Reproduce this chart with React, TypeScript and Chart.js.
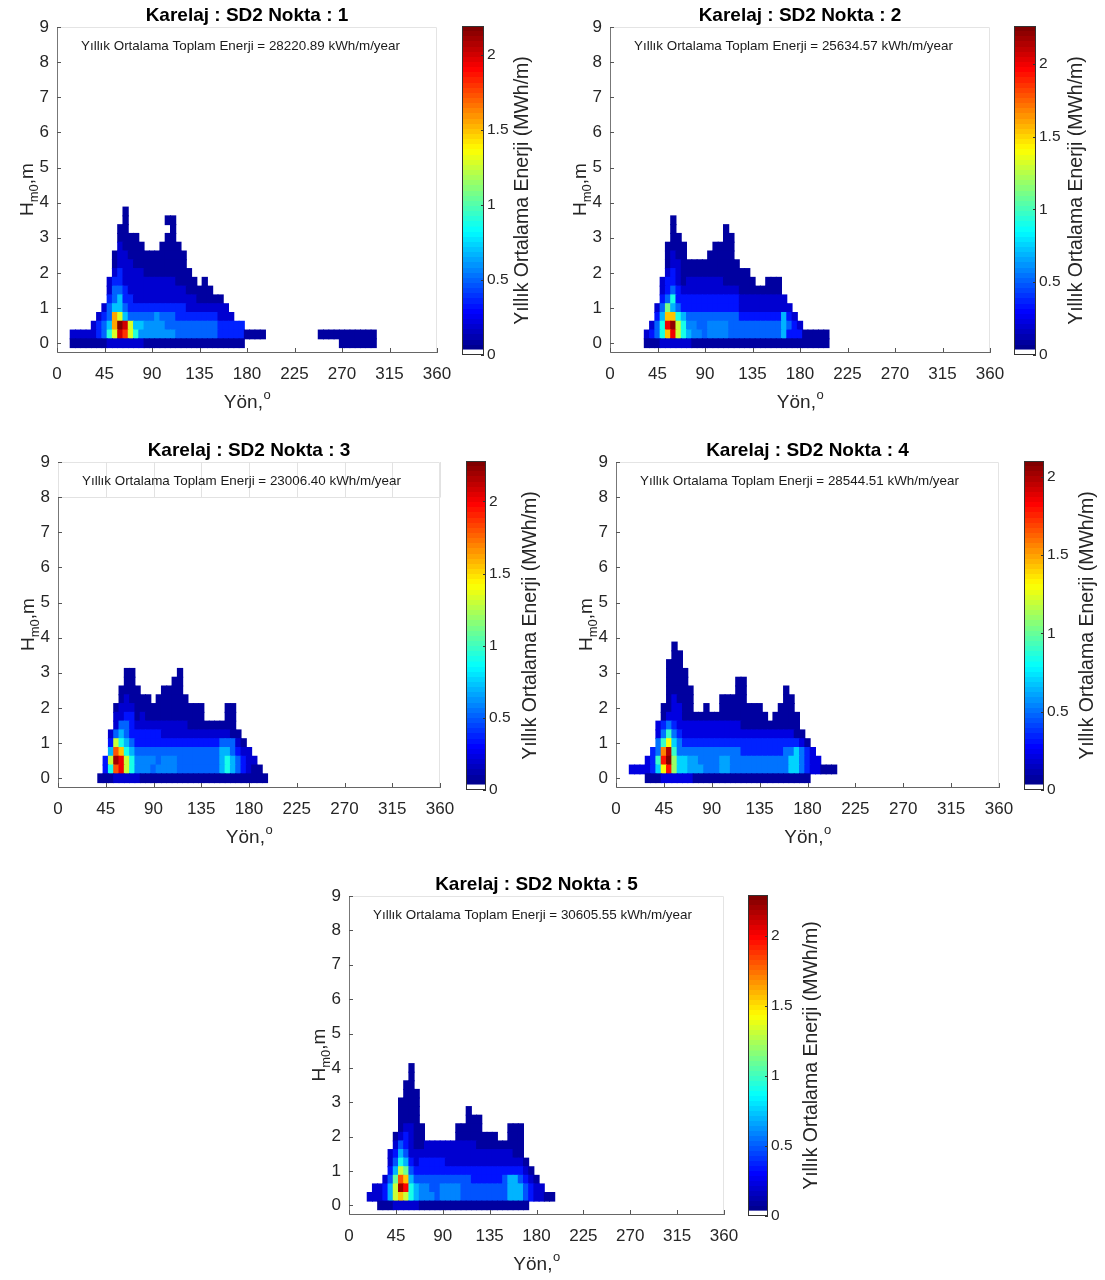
import React, { useEffect, useRef } from 'react';
import { Chart, registerables } from 'chart.js';

Chart.register(...registerables);

const FONT = '"Liberation Sans", Arial, Helvetica, sans-serif';

// ---------- data ----------
// direction bin centres (deg) – column index in the row strings
const DIR_BINS = [0, 5, 10, 15, 20, 25, 30, 35, 40, 45, 50, 55, 60, 65, 70, 75, 80, 85, 90, 95, 100, 105, 110, 115, 120, 125, 130, 135, 140, 145, 150, 155, 160, 165, 170, 175, 180, 185, 190, 195, 200, 205, 210, 215, 220, 225, 230, 235, 240, 245, 250, 255, 260, 265, 270, 275, 280, 285, 290, 295, 300];
// wave height bin centres (m) – row index, top row first
const H_BINS = [4, 3.75, 3.5, 3.25, 3, 2.75, 2.5, 2.25, 2, 1.75, 1.5, 1.25, 1, 0.75, 0.5, 0.25, 0];
const H_BIN_HALF = 0.125;

// energy level codes used in the row strings -> MWh/m
const LEVEL_CODES = '123456789abcd';
const LEVEL_VALUES = [0.08, 0.2, 0.35, 0.5, 0.7, 0.9, 1.1, 1.3, 1.55, 1.8, 2.0, 2.2, 0.6];

const TITLES = ['Karelaj : SD2 Nokta : 1', 'Karelaj : SD2 Nokta : 2', 'Karelaj : SD2 Nokta : 3', 'Karelaj : SD2 Nokta : 4', 'Karelaj : SD2 Nokta : 5'];
const TOTAL_ENERGY = ['28220.89', '25634.57', '23006.40', '28544.51', '30605.55'];
const CBAR_MAX = [2.19, 2.26, 2.28, 2.1, 2.29];

const X_MIN = 0, X_MAX = 360, X_STEP = 45;
const Y_MIN = -0.25, Y_MAX = 9, Y_STEP = 1;
const CBAR_STEP = 0.5;

const P1_ROWS: Array<[number, string]> = [
  [0, ''],
  [13, '1'],
  [13, '1' + '.......' + '11'],
  [12, '11' + '........' + '1'],
  [12, '1111' + '.....' + '11'],
  [12, '21111' + '...' + '1111'],
  [11, '122' + '11111111111'],
  [11, '1222' + '1111111111'],
  [11, '2322' + '22111111111'],
  [10, '2332' + '222222222' + '1111' + '.' + '1'],
  [10, '2443' + '22222222222' + '11111'],
  [10, '34533' + '222222222222' + '11111'],
  [9, '245543' + '3333333333' + '22222222'],
  [8, '2349854' + '4444d444' + '33333333' + '222'],
  [7, '23459cb85' + '5dddd44' + '44444444' + '33333'],
  [3, '22222346' + '8ba86' + 'ddddddd44' + '444444' + '33333' + '1111' + '..........' + '11111111111'],
  [3, '1111111' + '2222222' + '1111111111111111111' + '..................' + '1111111'],
];

const P2_ROWS: Array<[number, string]> = [
  [0, ''],
  [0, ''],
  [12, '1'],
  [12, '1' + '.........' + '1'],
  [12, '11' + '........' + '11'],
  [11, '1111' + '.....' + '1111'],
  [11, '1211' + '....' + '11111'],
  [11, '1221' + '1111111111'],
  [11, '2321' + '111111111111'],
  [10, '23321' + '2222222' + '111111' + '..' + '111'],
  [10, '23432' + '2222222222' + '11111111'],
  [10, '34633' + '3333333333' + '222222222'],
  [9, '24754' + '33333333333' + '2222222222'],
  [9, '359965' + '4444444444' + '33333333' + '532'],
  [8, '246bc86' + 'dd44dddd44' + '44444444' + '5432'],
  [7, '2346' + '9b865' + 'dd4dddd44' + '44444444' + '5' + '333' + '11111'],
  [7, '111' + '222222' + '11111111111111111111111111'],
];

const P3_ROWS: Array<[number, string]> = [
  [0, ''],
  [0, ''],
  [0, ''],
  [0, ''],
  [13, '11' + '........' + '1'],
  [13, '11' + '.......' + '11'],
  [12, '1111' + '....' + '1111'],
  [12, '121111' + '.' + '111111'],
  [11, '12221' + '111111111111' + '....' + '11'],
  [11, '22331' + '211111111111' + '....' + '11'],
  [11, '2443' + '2222222222' + '111111111'],
  [10, '24543' + '3333322222' + '2222222211'],
  [10, '38654' + '3333333333' + '333333' + '444' + '21'],
  [10, '5a965' + '4444444444' + '444444' + '554' + '322'],
  [9, '38cb86' + 'dddd4ddd44' + '444444' + '565' + '4322'],
  [9, '36ab86' + 'ddd4dddd44' + '444444' + '565' + '43211'],
  [8, '111' + '22222' + '111111111111111111111111'],
];

const P4_ROWS: Array<[number, string]> = [
  [0, ''],
  [11, '1'],
  [11, '11'],
  [10, '111'],
  [10, '1111'],
  [10, '1111' + '.........' + '11'],
  [10, '11111' + '........' + '11' + '.......' + '1'],
  [10, '12111' + '.....' + '11111' + '.......' + '11'],
  [9, '112211' + '..' + '1' + '..' + '11111111' + '...' + '111'],
  [9, '122211' + '11111111111111' + '.' + '11111'],
  [8, '234322' + '2222222222' + '11111111111'],
  [8, '246432' + '2222222222' + '222222222211'],
  [8, '468543' + '3333333333' + '3333333333' + '321'],
  [7, '349b644' + '4444444444' + '3333333344' + '5432'],
  [6, '236ac755' + 'dd4444dd44' + '44444444' + '455' + '4322'],
  [3, '2222358a755' + 'ddd444dd44' + '44444444' + '455' + '432' + '2111'],
  [6, '111' + '222222' + '1111111111111111111111'],
];

const P5_ROWS: Array<[number, string]> = [
  [12, '1'],
  [12, '1'],
  [11, '11'],
  [11, '111'],
  [10, '1111'],
  [10, '1111' + '.........' + '1'],
  [10, '1111' + '.........' + '111'],
  [10, '12211' + '......' + '11111' + '.....' + '111'],
  [9, '123211' + '......' + '11111111' + '..' + '111'],
  [9, '243211' + '2222222222' + '111111111'],
  [8, '235422' + '2222222222' + '2222222211'],
  [8, '246532' + '3333322222' + '22222222221'],
  [8, '358743' + '3333333333' + '333333333321'],
  [7, '247a954' + '4444444444' + '3333334554321'],
  [5, '22358cb65' + 'dd44dddd44' + '4444444' + '555' + '4322'],
  [4, '2223589865' + 'ddd4dddd44' + '4444444' + '555' + '432' + '211'],
  [6, '111' + '22222' + '111111111111111111111'],
];

const PANEL_ROWS = [P1_ROWS, P2_ROWS, P3_ROWS, P4_ROWS, P5_ROWS];

// ---------- layout (page pixels) ----------
type Box = [number, number, number, number];
interface PanelLayout { canvas: Box; area: Box; cbCanvas: Box; cbArea: Box; cbLabelX: number; grid8: boolean; }
const LAYOUT: PanelLayout[] = [
  { canvas: [0, 0, 472, 420], area: [57, 27, 437, 352], cbCanvas: [455, 0, 100, 380], cbArea: [462, 26, 484, 355], cbLabelX: 523, grid8: false },
  { canvas: [555, 0, 472, 420], area: [610, 27, 990, 352], cbCanvas: [1007, 0, 98, 380], cbArea: [1014, 26, 1036, 355], cbLabelX: 1077, grid8: false },
  { canvas: [0, 435, 476, 420], area: [58, 462, 440, 787], cbCanvas: [459, 435, 100, 380], cbArea: [466, 461, 486, 790], cbLabelX: 531, grid8: true },
  { canvas: [559, 435, 476, 420], area: [616, 462, 999, 787], cbCanvas: [1017, 435, 88, 380], cbArea: [1024, 461, 1044, 790], cbLabelX: 1088, grid8: false },
  { canvas: [280, 868, 480, 412], area: [349, 896, 724, 1214], cbCanvas: [742, 868, 100, 380], cbArea: [748, 895, 768, 1216], cbLabelX: 812, grid8: false },
];

// ---------- colour map (MATLAB jet, 64 levels, first level white) ----------
function clamp01(v: number) { return Math.max(0, Math.min(1, v)); }
function jetIndex(k: number): string {
  if (k <= 0) return '#ffffff';
  const u = k / 63;
  const r = clamp01(1.5 - Math.abs(4 * u - 3));
  const g = clamp01(1.5 - Math.abs(4 * u - 2));
  const b = clamp01(1.5 - Math.abs(4 * u - 1));
  return `rgb(${Math.round(r * 255)},${Math.round(g * 255)},${Math.round(b * 255)})`;
}
function jetColor(t: number): string {
  let k = Math.floor(t * 64);
  if (k > 63) k = 63;
  return jetIndex(k);
}

// ---------- plugins ----------
const heatDecor = {
  id: 'heatDecor',
  afterDraw(chart: any, _args: any, o: any) {
    const { ctx, chartArea: a, scales } = chart;
    const xs = scales.x, ys = scales.y;
    ctx.save();
    ctx.lineWidth = 1;
    ctx.strokeStyle = '#e4e4e4';
    ctx.beginPath();
    ctx.moveTo(a.left, a.top + 0.5);
    ctx.lineTo(a.right - 0.5, a.top + 0.5);
    ctx.lineTo(a.right - 0.5, a.bottom);
    ctx.stroke();
    if (o.grid8) {
      const y8 = Math.round(ys.getPixelForValue(8)) + 0.5;
      ctx.strokeStyle = '#e2e2e2';
      ctx.beginPath();
      ctx.moveTo(a.left, y8);
      ctx.lineTo(a.right, y8);
      xs.ticks.forEach((t: any) => {
        const px = Math.round(xs.getPixelForValue(t.value)) + 0.5;
        ctx.moveTo(px, a.top);
        ctx.lineTo(px, y8);
      });
      ctx.stroke();
    }
    ctx.strokeStyle = '#555';
    ctx.beginPath();
    xs.ticks.forEach((t: any) => {
      const px = Math.round(xs.getPixelForValue(t.value)) + 0.5;
      ctx.moveTo(px, a.bottom);
      ctx.lineTo(px, a.bottom - 4);
    });
    ys.ticks.forEach((t: any) => {
      const py = Math.round(ys.getPixelForValue(t.value)) + 0.5;
      ctx.moveTo(a.left, py);
      ctx.lineTo(a.left + 4, py);
    });
    ctx.stroke();

    const cx = (a.left + a.right) / 2;
    ctx.textBaseline = 'alphabetic';
    ctx.textAlign = 'center';
    ctx.fillStyle = '#000';
    ctx.font = `bold 19px ${FONT}`;
    ctx.fillText(o.title, cx, a.top - 6.5);

    ctx.textAlign = 'left';
    ctx.fillStyle = '#1a1a1a';
    ctx.font = `13.4px ${FONT}`;
    ctx.fillText(o.note, a.left + 24, a.top + 22.5);

    // x label  Yön,°
    ctx.fillStyle = '#262626';
    ctx.font = `19px ${FONT}`;
    const w1 = ctx.measureText('Yön,').width;
    ctx.font = `13px ${FONT}`;
    const w2 = ctx.measureText('o').width;
    const sx = cx - (w1 + w2) / 2;
    const by = a.bottom + 56;
    ctx.font = `19px ${FONT}`;
    ctx.fillText('Yön,', sx, by);
    ctx.font = `13px ${FONT}`;
    ctx.fillText('o', sx + w1 + 0.5, by - 9);

    // y label  H_m0,m
    const cy = (a.top + a.bottom) / 2;
    ctx.translate(a.left - 24, cy);
    ctx.rotate(-Math.PI / 2);
    ctx.font = `19px ${FONT}`;
    const hW = ctx.measureText('H').width;
    const rW = ctx.measureText(',m').width;
    ctx.font = `13px ${FONT}`;
    const sW = ctx.measureText('m0').width;
    let tx = -(hW + sW + rW) / 2;
    ctx.font = `19px ${FONT}`;
    ctx.fillText('H', tx, 0);
    tx += hW;
    ctx.font = `13px ${FONT}`;
    ctx.fillText('m0', tx, 5);
    tx += sW;
    ctx.font = `19px ${FONT}`;
    ctx.fillText(',m', tx, 0);
    ctx.restore();
  },
};

const cbarDecor = {
  id: 'cbarDecor',
  afterDraw(chart: any, _args: any, o: any) {
    const { ctx, chartArea: a, scales } = chart;
    const ys = scales.y;
    ctx.save();
    ctx.strokeStyle = '#333';
    ctx.lineWidth = 1;
    ctx.strokeRect(a.left + 0.5, a.top + 0.5, a.right - a.left - 1, a.bottom - a.top - 1);
    ctx.beginPath();
    ys.ticks.forEach((t: any) => {
      const py = Math.round(ys.getPixelForValue(t.value)) + 0.5;
      ctx.moveTo(a.right, py);
      ctx.lineTo(a.right - 3, py);
    });
    ctx.stroke();
    ctx.translate(o.labelX, (a.top + a.bottom) / 2);
    ctx.rotate(-Math.PI / 2);
    ctx.font = `19.5px ${FONT}`;
    ctx.textAlign = 'center';
    ctx.textBaseline = 'middle';
    ctx.fillStyle = '#262626';
    ctx.fillText('Yıllık Ortalama Enerji (MWh/m)', 0, 0);
    ctx.restore();
  },
};

// ---------- configs ----------
function buildHeatConfig(idx: number): any {
  const rows = PANEL_ROWS[idx];
  const cmax = CBAR_MAX[idx];
  const lay = LAYOUT[idx];
  const [cx, cy, cw, ch] = lay.canvas;
  const [L, T, R, B] = lay.area;
  const points: any[] = [];
  const colors: string[] = [];
  rows.forEach(([start, s], r) => {
    for (let k = 0; k < s.length; k++) {
      const c = s[k];
      if (c === '.') continue;
      const v = LEVEL_VALUES[LEVEL_CODES.indexOf(c)];
      const h = H_BINS[r];
      points.push({ x: DIR_BINS[start + k], y: [h - H_BIN_HALF, h + H_BIN_HALF] });
      colors.push(jetColor(v / cmax));
    }
  });
  const tickFont = { family: FONT, size: 17 };
  return {
    type: 'bar',
    data: {
      datasets: [{
        data: points,
        backgroundColor: colors,
        borderWidth: 0,
        barPercentage: 1,
        categoryPercentage: 1,
        inflateAmount: 0.5,
        grouped: false,
      }],
    },
    options: {
      animation: false,
      responsive: false,
      devicePixelRatio: 1,
      events: [],
      layout: { padding: { left: 0, top: T - cy, right: cx + cw - R, bottom: 0 } },
      plugins: {
        legend: { display: false },
        tooltip: { enabled: false },
        heatDecor: { title: TITLES[idx], note: `Yıllık Ortalama Toplam Enerji = ${TOTAL_ENERGY[idx]} kWh/m/year`, grid8: lay.grid8 },
      },
      scales: {
        x: {
          type: 'linear', min: X_MIN, max: X_MAX, offset: false,
          ticks: { stepSize: X_STEP, padding: 12, font: tickFont, color: '#262626', maxRotation: 0, autoSkip: false },
          grid: { display: false, drawTicks: false, offset: false },
          border: { display: true, color: '#666', width: 1 },
          afterFit: (s: any) => { s.height = cy + ch - B; },
        },
        y: {
          type: 'linear', min: Y_MIN, max: Y_MAX,
          ticks: { stepSize: Y_STEP, includeBounds: false, padding: 8, font: tickFont, color: '#262626', autoSkip: false },
          grid: { display: false, drawTicks: false },
          border: { display: true, color: '#777', width: 1 },
          afterFit: (s: any) => { s.width = L - cx; },
        },
      },
    },
    plugins: [heatDecor],
  };
}

function buildCbarConfig(idx: number): any {
  const cmax = CBAR_MAX[idx];
  const lay = LAYOUT[idx];
  const [cx, cy, cw, ch] = lay.cbCanvas;
  const [L, T, R, B] = lay.cbArea;
  const gradient = (ctx: any) => {
    const chart = ctx.chart;
    if (!chart.chartArea) return '#00008f';
    const ys = chart.scales.y;
    const y0 = ys.getPixelForValue(0);
    const y1 = ys.getPixelForValue(cmax);
    const g = chart.ctx.createLinearGradient(0, y0, 0, y1);
    for (let k = 1; k < 64; k++) {
      const col = jetIndex(k);
      g.addColorStop(k / 64, col);
      g.addColorStop(Math.min(1, (k + 1) / 64 - 0.0001), col);
    }
    return g;
  };
  return {
    type: 'bar',
    data: {
      labels: [''],
      datasets: [
        { data: [[0, cmax / 64]], backgroundColor: '#ffffff', borderWidth: 0, barPercentage: 1, categoryPercentage: 1, grouped: false },
        { data: [[cmax / 64, cmax]], backgroundColor: gradient, borderWidth: 0, barPercentage: 1, categoryPercentage: 1, grouped: false },
      ],
    },
    options: {
      animation: false,
      responsive: false,
      devicePixelRatio: 1,
      events: [],
      layout: { padding: { left: L - cx, top: T - cy, right: 0, bottom: cy + ch - B } },
      plugins: {
        legend: { display: false },
        tooltip: { enabled: false },
        cbarDecor: { labelX: lay.cbLabelX - cx },
      },
      scales: {
        x: { display: false, offset: true },
        y: {
          position: 'right', min: 0, max: cmax,
          ticks: {
            stepSize: CBAR_STEP, includeBounds: false, padding: 3,
            font: { family: FONT, size: 15.5 }, color: '#262626',
            callback: (v: any) => String(Number(v)),
          },
          grid: { display: false, drawTicks: false },
          border: { display: false },
          afterFit: (s: any) => { s.width = cx + cw - R; },
        },
      },
    },
    plugins: [cbarDecor],
  };
}

function ChartCanvas({ box, build }: { box: Box; build: () => any }) {
  const ref = useRef<HTMLCanvasElement>(null);
  useEffect(() => {
    if (!ref.current) return;
    const chart = new Chart(ref.current, build());
    return () => chart.destroy();
  }, []);
  return (
    <canvas
      ref={ref}
      width={box[2]}
      height={box[3]}
      style={{ position: 'absolute', left: box[0], top: box[1], width: box[2], height: box[3] }}
    />
  );
}

export default function App() {
  return (
    <div style={{ position: 'absolute', left: 0, top: 0, width: 1105, height: 1280, background: '#fff', overflow: 'hidden' }}>
      {LAYOUT.map((lay, i) => (
        <React.Fragment key={i}>
          <ChartCanvas box={lay.canvas} build={() => buildHeatConfig(i)} />
          <ChartCanvas box={lay.cbCanvas} build={() => buildCbarConfig(i)} />
        </React.Fragment>
      ))}
    </div>
  );
}
